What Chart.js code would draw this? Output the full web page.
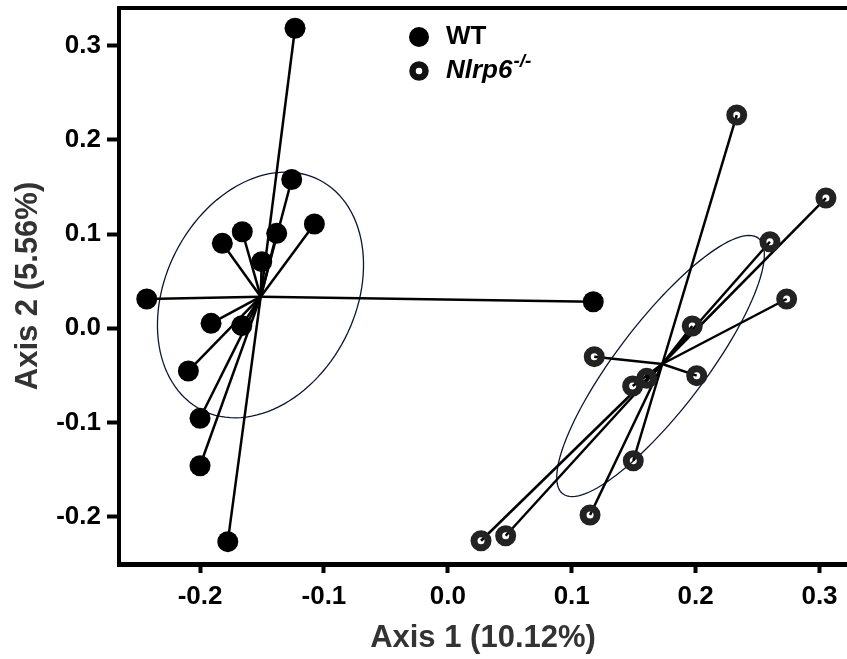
<!DOCTYPE html>
<html lang="en">
<head>
  <meta charset="UTF-8">
  <title>PCoA Axis 1 vs Axis 2</title>
  <script src="https://cdn.jsdelivr.net/npm/chart.js"></script>
  <style>
    html, body { margin: 0; padding: 0; background: #fff; }
    canvas { display: block; }
  </style>
</head>
<body>
  <canvas id="pcoaChart" width="847" height="659"></canvas>
  <script>
    // sample coordinates (Axis 1, Axis 2)
    const wtX = [-0.1233, -0.1260, -0.1077, -0.1381, -0.1659, -0.1820, -0.1502, -0.2430, -0.1911, -0.1663, -0.2094, -0.2000, -0.2000, -0.1776, 0.1174];
    const wtY = [0.3185, 0.1580, 0.1107, 0.1008, 0.1025, 0.0902, 0.0707, 0.0311, 0.0053, 0.0028, -0.0453, -0.0955, -0.1459, -0.2265, 0.0282];
    const koX = [0.2332, 0.3052, 0.2600, 0.2735, 0.1973, 0.1182, 0.2009, 0.1605, 0.1492, 0.1497, 0.1148, 0.0467, 0.0268];
    const koY = [0.2264, 0.1383, 0.0919, 0.0311, 0.0024, -0.0301, -0.0503, -0.0531, -0.0613, -0.1406, -0.1982, -0.2202, -0.2255];

    const wtCentroid = [-0.1510, 0.0336];
    const koCentroid = [0.1731, -0.0379];

    // confidence ellipses: centre plus two semi-axis vectors (data units)
    const wtEllipse = [[-0.1512, 0.0354], [0.0476, 0.1220], [0.0682, -0.0461]];
    const koEllipse = [[0.1717, -0.0400], [0.0789, 0.1357], [0.0282, -0.0283]];

    const xTicks = [-0.2, -0.1, 0.0, 0.1, 0.2, 0.3];
    const yTicks = [-0.2, -0.1, 0.0, 0.1, 0.2, 0.3];

    const groupNames = ['WT', 'Nlrp6'];
    const groupSup = ['', '-/-'];

    const FONT = '"Liberation Sans", Arial, Helvetica, sans-serif';

    const toPoints = (xs, ys) => xs.map((x, i) => ({ x: x, y: ys[i] }));

    // ellipses + spokes from the centroid to every sample
    const spiderPlugin = {
      id: 'spider',
      beforeDatasetsDraw(chart) {
        const { ctx, chartArea } = chart;
        const xs = chart.scales.x, ys = chart.scales.y;
        ctx.save();
        ctx.beginPath();
        ctx.rect(chartArea.left, chartArea.top, chartArea.right - chartArea.left, chartArea.bottom - chartArea.top);
        ctx.clip();

        [wtEllipse, koEllipse].forEach(e => {
          const [c, u, v] = e;
          ctx.beginPath();
          for (let k = 0; k <= 120; k++) {
            const t = k / 120 * Math.PI * 2;
            const px = xs.getPixelForValue(c[0] + u[0] * Math.cos(t) + v[0] * Math.sin(t));
            const py = ys.getPixelForValue(c[1] + u[1] * Math.cos(t) + v[1] * Math.sin(t));
            if (k === 0) ctx.moveTo(px, py); else ctx.lineTo(px, py);
          }
          ctx.closePath();
          ctx.strokeStyle = '#0b1633';
          ctx.lineWidth = 1.3;
          ctx.stroke();
        });

        const groups = [[wtX, wtY, wtCentroid], [koX, koY, koCentroid]];
        ctx.strokeStyle = '#000';
        ctx.lineWidth = 2.5;
        groups.forEach(([gx, gy, c]) => {
          const cx = xs.getPixelForValue(c[0]);
          const cy = ys.getPixelForValue(c[1]);
          gx.forEach((x, i) => {
            ctx.beginPath();
            ctx.moveTo(cx, cy);
            ctx.lineTo(xs.getPixelForValue(x), ys.getPixelForValue(gy[i]));
            ctx.stroke();
          });
        });
        ctx.restore();

        // top frame line
        ctx.save();
        ctx.strokeStyle = '#000';
        ctx.lineWidth = 4;
        ctx.beginPath();
        ctx.moveTo(chartArea.left - 2, chartArea.top);
        ctx.lineTo(chart.width, chartArea.top);
        ctx.stroke();
        ctx.restore();
      }
    };

    // legend inside the plot, with the superscript genotype
    const legendPlugin = {
      id: 'innerLegend',
      afterDraw(chart) {
        const { ctx, chartArea } = chart;
        const lx = chartArea.left + 300;
        const ly = chartArea.top + 29;
        ctx.save();
        groupNames.forEach((name, i) => {
          const y = ly + i * 34;
          ctx.beginPath();
          if (i === 0) {
            ctx.arc(lx, y, 10, 0, Math.PI * 2);
            ctx.fillStyle = '#000';
            ctx.fill();
          } else {
            ctx.arc(lx, y, 6.5, 0, Math.PI * 2);
            ctx.strokeStyle = '#111';
            ctx.lineWidth = 6.5;
            ctx.stroke();
          }
          ctx.fillStyle = '#000';
          ctx.textBaseline = 'middle';
          ctx.textAlign = 'left';
          ctx.font = (i === 0 ? '' : 'italic ') + 'bold 26px ' + FONT;
          ctx.fillText(name, lx + 27, y);
          if (groupSup[i]) {
            const w = ctx.measureText(name).width;
            ctx.font = 'italic bold 19px ' + FONT;
            ctx.fillText(groupSup[i], lx + 27 + w + 1, y - 9);
          }
        });
        ctx.restore();
      }
    };

    const tickFont = { family: FONT, size: 26, weight: 'bold' };
    const titleFont = { family: FONT, size: 31, weight: 'bold', lineHeight: 1.2 };

    new Chart(document.getElementById('pcoaChart').getContext('2d'), {
      type: 'scatter',
      data: {
        datasets: [{
          label: 'WT',
          data: toPoints(wtX, wtY),
          pointStyle: 'circle',
          pointRadius: 10.5,
          backgroundColor: '#000',
          borderColor: '#000',
          borderWidth: 0,
        }, {
          label: 'Nlrp6-/-',
          data: toPoints(koX, koY),
          pointStyle: 'circle',
          pointRadius: 7,
          backgroundColor: 'rgba(0,0,0,0)',
          borderColor: '#222',
          borderWidth: 7,
        }]
      },
      options: {
        responsive: false,
        animation: false,
        devicePixelRatio: 1,
        layout: { autoPadding: false, padding: { top: 8, right: 0, bottom: 0, left: 0 } },
        plugins: {
          legend: { display: false },
          tooltip: { enabled: false },
        },
        scales: {
          x: {
            type: 'linear',
            min: -0.2654,
            max: 0.3222,
            afterBuildTicks: s => { s.ticks = xTicks.map(v => ({ value: v })); },
            afterFit: s => { s.height = 95; s.paddingLeft = 0; s.paddingRight = 0; },
            ticks: {
              callback: v => v.toFixed(1),
              font: tickFont,
              color: '#000',
              padding: 8,
              maxRotation: 0,
            },
            grid: { drawOnChartArea: false, drawTicks: true, tickLength: 9, tickWidth: 4, tickColor: '#000' },
            border: { display: true, width: 5, color: '#000' },
            title: { display: true, text: 'Axis 1 (10.12%)', font: titleFont, color: '#333', padding: { top: 0, bottom: 2 } },
          },
          y: {
            type: 'linear',
            min: -0.2502,
            max: 0.3400,
            afterBuildTicks: s => { s.ticks = yTicks.map(v => ({ value: v })); },
            afterFit: s => { s.width = 119; s.paddingTop = 0; s.paddingBottom = 0; },
            ticks: {
              callback: v => v.toFixed(1),
              font: tickFont,
              color: '#000',
              padding: 6,
            },
            grid: { drawOnChartArea: false, drawTicks: true, tickLength: 12, tickWidth: 4, tickColor: '#000' },
            border: { display: true, width: 4, color: '#000' },
            title: { display: true, text: 'Axis 2 (5.56%)', font: titleFont, color: '#333', padding: { top: 10, bottom: 0 } },
          }
        }
      },
      plugins: [spiderPlugin, legendPlugin]
    });
  </script>
</body>
</html>
